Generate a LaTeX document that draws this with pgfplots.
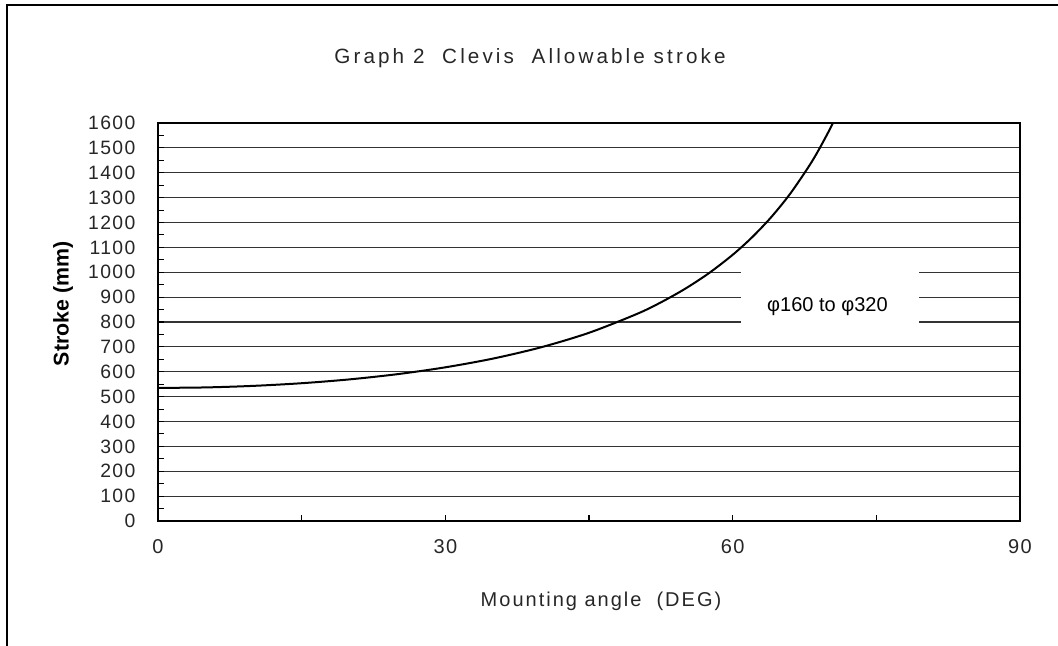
\documentclass[border=0pt]{standalone}
\usepackage{fontspec}
\setmainfont{Liberation Sans}
\newfontfamily\tickfont{Liberation Sans}[LetterSpace=7]
\newfontfamily\titlefont{Liberation Sans}[LetterSpace=15]
\newfontfamily\labfont{Liberation Sans}[LetterSpace=10]
\usepackage{pgfplots}
\pgfplotsset{compat=1.18}
\begin{document}
\begin{tikzpicture}[x=1pt,y=1pt]
\useasboundingbox (0,0) rectangle (793.5,484.5);
\draw[line width=1.4pt] (5.25,-2) -- (5.25,480.75) -- (800,480.75);
\begin{axis}[
  at={(118.5pt,93.75pt)}, anchor=south west,
  scale only axis, width=646.5pt, height=298.5pt,
  xmin=0, xmax=90, ymin=0, ymax=1600,
  xtick={0,30,60,90}, minor xtick={15,45,75},
  ytick={0,100,...,1600}, minor ytick={50,150,...,1550},
  ymajorgrids,
  major grid style={line width=0.9pt, black!80},
  axis line style={line width=1.5pt},
  tick style={black, line width=0.8pt},
  major tick length=4.5pt, minor tick length=4.5pt,
  tick align=inside,
  xtick pos=bottom, ytick pos=left,
  /pgf/number format/assume math mode=true,
  /pgf/number format/1000 sep={},
  xticklabel style={font=\tickfont\fontsize{15}{16}\selectfont, text=black!85, yshift=-10pt},
  yticklabel style={font=\tickfont\fontsize{14.5}{15}\selectfont, text=black!85, xshift=-13.5pt},
  clip=true,
]
\addplot[black, line width=1.5pt, smooth] coordinates {
(0,535.0) (5,537.0) (10,543.3) (15,553.9) (20,569.3) (25,590.3) (30,617.8)
(35,653.1) (40,698.4) (45,756.6) (50,832.3) (52.5,878.8) (55,932.7)
(57.5,995.7) (60,1070.0) (62,1139.6) (64,1220.4) (66,1315.3) (68,1428.2)
(69,1492.9) (70,1564.2) (70.5,1602.7) (71,1643.3)
};
\fill[white] (axis cs:60.9,1055) rectangle (axis cs:79.45,745);
\node[font=\fontsize{15}{16}\selectfont] at (axis cs:69.9,861) {φ160 to φ320};
\end{axis}
\node[font=\titlefont\fontsize{15.5}{16}\selectfont, text=black!85] at (397.5,441) {Graph 2\ \ Clevis\ \ Allowable stroke};
\node[font=\labfont\fontsize{15}{16}\selectfont, text=black!85] at (450.75,33.75) {Mounting angle\ \ (DEG)};
\node[font=\bfseries\fontsize{16}{17}\selectfont, rotate=90] at (47.25,256.5) {Stroke (mm)};
\end{tikzpicture}
\end{document}
